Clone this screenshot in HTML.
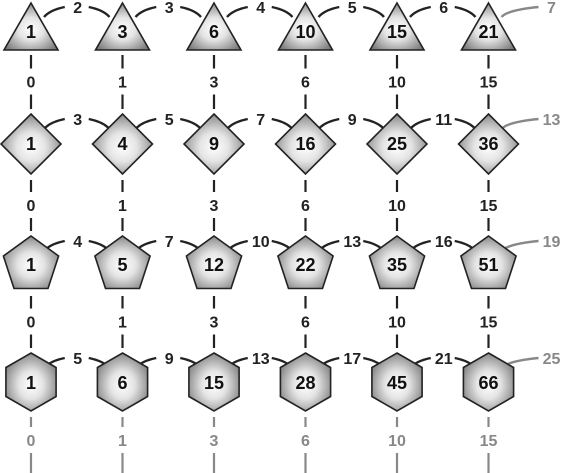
<!DOCTYPE html>
<html><head><meta charset="utf-8"><style>
html,body{margin:0;padding:0;background:#fff;}
svg{display:block;font-family:"Liberation Sans",sans-serif;font-weight:bold;}
</style></head><body>
<svg id="c" width="565" height="473" viewBox="0 0 565 473">
<defs>
<radialGradient id="g" cx="50%" cy="55%" r="60%">
<stop offset="0%" stop-color="#ffffff"/><stop offset="40%" stop-color="#e4e4e4"/><stop offset="100%" stop-color="#7a7a7a"/>
</radialGradient>
</defs>
</svg>
<script>
const triangular=[1,3,6,10,15,21];
const square=[1,4,9,16,25,36];
const pentagonal=[1,5,12,22,35,51];
const hexagonal=[1,6,15,28,45,66];
const rowNames=['triangle','diamond','pentagon','hexagon'];
const rows=[triangular,square,pentagonal,hexagonal];
const rowDiffs=[[2,3,4,5,6,7],[3,5,7,9,11,13],[4,7,10,13,16,19],[5,9,13,17,21,25]];
const colDiffs=[0,1,3,6,10,15];
const svg=document.getElementById('c');
const NS='http://www.w3.org/2000/svg';
const colX=i=>31+i*91.5;
function el(t,a,p){const e=document.createElementNS(NS,t);for(const k in a)e.setAttribute(k,a[k]);(p||svg).appendChild(e);return e;}
function shape(r,cx,cy){
 let pts=[];
 if(r===0){pts=[[0,-28],[27,19],[-27,19]];}
 else if(r===1){pts=[[0,-30],[30,0],[0,30],[-30,0]];}
 else if(r===2){for(let k=0;k<5;k++){const a=-Math.PI/2+k*2*Math.PI/5;pts.push([29*Math.cos(a),29*Math.sin(a)+3]);}}
 else {for(let k=0;k<6;k++){const a=-Math.PI/2+k*Math.PI/3;pts.push([29*Math.cos(a),29*Math.sin(a)]);}}
 return pts.map(p=>(cx+p[0]).toFixed(1)+','+(cy+p[1]).toFixed(1)).join(' ');
}
const topY=[2,114,236,353];
const botY=[49,174,290,411];
const labY=[38,150,271,389];
// vertical connectors
for(let r=0;r<4;r++){
 for(let i=0;i<6;i++){
  const x=colX(i);
  const y1=botY[r], y2=r<3?topY[r+1]:473;
  const my=r<3?(y1+y2)/2:440;
  const gray=r===3;
  const col=gray?'#888':'#222';
  const l1=el('line',{x1:x,y1:y1+6,x2:x,y2:my-13,stroke:col,'stroke-width':2.2});
  
  
  const l2=el('line',{x1:x,y1:my+13,x2:x,y2:gray?473:y2-5,stroke:col,'stroke-width':2.2});
  
  
  const t=el('text',{x:x,y:my+6,'text-anchor':'middle','font-size':16,fill:col});
  t.textContent=colDiffs[i];
  
  
 }
}
// horizontal arcs
for(let r=0;r<4;r++){
 const ly=topY[r]+8;
 for(let i=0;i<6;i++){
  const x0=colX(i)+13, x1=i<5?colX(i+1)-13:colX(i)+80;
  const mx=i<5?(x0+x1)/2:colX(i)+62;
  const gray=i===5;
  const col=gray?'#888':'#222';
  const p1=el('path',{d:`M${x0},${ly+7} Q${x0+6},${ly} ${mx-12},${ly-3}`,fill:'none',stroke:col,'stroke-width':2.4});
  
  
  if(i<5){
   const p2=el('path',{d:`M${mx+12},${ly-3} Q${x1-6},${ly} ${x1},${ly+7}`,fill:'none',stroke:col,'stroke-width':2.4});
   
   
  }
  const t=el('text',{x:mx+1,y:ly+3,'text-anchor':'middle','font-size':16,fill:col});
  t.textContent=rowDiffs[r][i];
  
  
 }
}
// shapes
for(let r=0;r<4;r++){
 for(let i=0;i<6;i++){
  const x=colX(i);
  const cy=r===0?31:r===1?144:r===2?262:382;
  const p=el('polygon',{points:shape(r,x,cy),fill:'url(#g)',stroke:'#222','stroke-width':1.6,'stroke-linejoin':'miter'});
  
  
  const t=el('text',{x:x,y:labY[r],'text-anchor':'middle','font-size':18,fill:'#111'});
  t.textContent=rows[r][i];
  
  
 }
}
</script>
</body></html>
